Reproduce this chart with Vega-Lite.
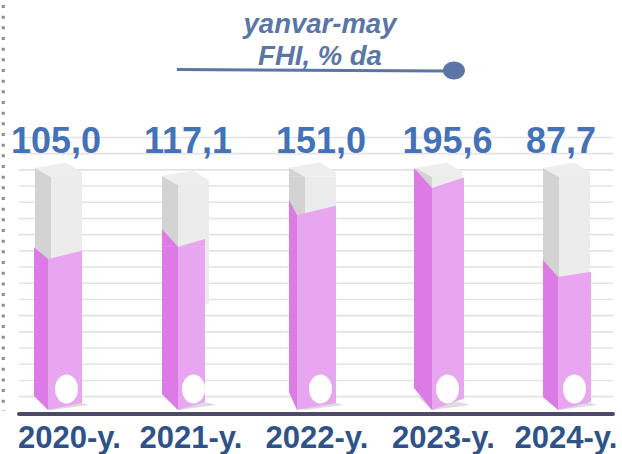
{"$schema":"https://vega.github.io/schema/vega-lite/v6.json","width":622,"height":454,"padding":0,"autosize":"none","background":"white","config":{"view":{"stroke":null}},
"resolve":{"scale":{"x":"independent","shape":"independent","size":"independent"}},
"datasets":{"bars":[{"year":2020,"value":105.0,"label":"105,0","tick":"2020-y.","fill":95.7,"tube":146.3},{"year":2021,"value":117.1,"label":"117,1","tick":"2021-y.","fill":103.3,"tube":141.4},{"year":2022,"value":151.0,"label":"151,0","tick":"2022-y.","fill":122.8,"tube":146.5},{"year":2023,"value":195.6,"label":"195,6","tick":"2023-y.","fill":139.5,"tube":146.3},{"year":2024,"value":87.7,"label":"87,7","tick":"2024-y.","fill":84.6,"tube":146.3}],
"grid":[{"g":10.7},{"g":20.7},{"g":30.7},{"g":40.7},{"g":50.7},{"g":60.7},{"g":70.7},{"g":80.7},{"g":90.7},{"g":100.7},{"g":110.7},{"g":120.7},{"g":130.7},{"g":140.7},{"g":150.7},{"g":160.7},{"g":170.7}],
"one":[{"t":"yanvar-may"}]},
"data":{"name":"bars"},
"layer":[
{"data":{"name":"one"},"mark":{"type":"rule","color":"#8c8c8c","strokeWidth":3,"strokeDash":[3,7.67]},"encoding":{"x":{"datum":2019.624,"type":"quantitative","scale":{"domain":[2019.5984,2024.4961],"nice":false,"zero":false,"padding":0},"axis":null},"y":{"datum":252.5,"type":"quantitative","scale":{"domain":[-24.69,255.56],"nice":false,"zero":false},"axis":null},"y2":{"datum":1.85}}},
{"data":{"name":"grid"},"mark":{"type":"rule","color":"#e3e3e3","strokeWidth":1.6},"encoding":{"x":{"datum":2019.748,"type":"quantitative","scale":{"domain":[2019.5984,2024.4961],"nice":false,"zero":false,"padding":0},"axis":null},"x2":{"datum":2024.425},"y":{"field":"g","type":"quantitative","scale":{"domain":[-24.69,255.56],"nice":false,"zero":false},"axis":null}}},
{"mark":{"type":"point","filled":true,"size":4,"opacity":1,"color":"#dcdcdc","strokeWidth":0,"shape":"M-16,-15L0,0L38,-5L31,-7Z"},"encoding":{"x":{"field":"year","type":"quantitative","scale":{"domain":[2019.5984,2024.4961],"nice":false,"zero":false,"padding":0},"axis":null},"y":{"datum":2.47,"type":"quantitative","scale":{"domain":[-24.69,255.56],"nice":false,"zero":false},"axis":null}}},
{"mark":{"type":"bar","orient":"vertical","color":"#d3d3d3","width":16,"xOffset":-8},"encoding":{"x":{"field":"year","type":"quantitative","scale":{"domain":[2019.5984,2024.4961],"nice":false,"zero":false,"padding":0},"axis":null},"y":{"field":"tube","type":"quantitative","scale":{"domain":[-24.69,255.56],"nice":false,"zero":false},"axis":null},"y2":{"datum":68}}},
{"mark":{"type":"bar","orient":"vertical","color":"#ececec","width":31,"xOffset":15.5},"encoding":{"x":{"field":"year","type":"quantitative","scale":{"domain":[2019.5984,2024.4961],"nice":false,"zero":false,"padding":0},"axis":null},"y":{"field":"tube","type":"quantitative","scale":{"domain":[-24.69,255.56],"nice":false,"zero":false},"axis":null},"y2":{"datum":68}}},
{"mark":{"type":"point","filled":true,"size":4,"opacity":1,"color":"#d3d3d3","strokeWidth":0,"shape":"M-16,0L-16,-9L0,0Z"},"encoding":{"x":{"field":"year","type":"quantitative","scale":{"domain":[2019.5984,2024.4961],"nice":false,"zero":false,"padding":0},"axis":null},"y":{"field":"tube","type":"quantitative","scale":{"domain":[-24.69,255.56],"nice":false,"zero":false},"axis":null}}},
{"mark":{"type":"point","filled":true,"size":4,"opacity":1,"color":"#eeeeee","strokeWidth":0,"shape":"M-16,-9L15,-14.5L31,-4.5L31,0L0,0Z"},"encoding":{"x":{"field":"year","type":"quantitative","scale":{"domain":[2019.5984,2024.4961],"nice":false,"zero":false,"padding":0},"axis":null},"y":{"field":"tube","type":"quantitative","scale":{"domain":[-24.69,255.56],"nice":false,"zero":false},"axis":null}}},
{"mark":{"type":"bar","orient":"vertical","color":"#dc7ae6"},"encoding":{"x":{"field":"year","type":"quantitative","scale":{"domain":[2020,2021,2022,2023,2024],"range":[41,170,293,423,550.5],"nice":false,"zero":false,"padding":0},"axis":null},"size":{"field":"year","type":"nominal","legend":null,"scale":{"type":"ordinal","domain":[2020,2021,2022,2023,2024],"range":[14,16,8,18,15]}},"y":{"field":"fill","type":"quantitative","scale":{"domain":[-24.69,255.56],"nice":false,"zero":false},"axis":null},"y2":{"datum":16}}},
{"mark":{"type":"bar","orient":"vertical","color":"#e9a6f0"},"encoding":{"x":{"field":"year","type":"quantitative","scale":{"domain":[2020,2021,2022,2023,2024],"range":[65,191.5,316.5,448,574.5],"nice":false,"zero":false,"padding":0},"axis":null},"size":{"field":"year","type":"nominal","legend":null,"scale":{"type":"ordinal","domain":[2020,2021,2022,2023,2024],"range":[34,27,39,32,33]}},"y":{"field":"fill","type":"quantitative","scale":{"domain":[-24.69,255.56],"nice":false,"zero":false},"axis":null},"y2":{"datum":9.9}}},
{"mark":{"type":"point","filled":true,"size":4,"opacity":1,"color":"#dc7ae6","strokeWidth":0},"encoding":{"x":{"field":"year","type":"quantitative","scale":{"domain":[2019.5984,2024.4961],"nice":false,"zero":false,"padding":0},"axis":null},"y":{"field":"fill","type":"quantitative","scale":{"domain":[-24.69,255.56],"nice":false,"zero":false},"axis":null},"shape":{"field":"year","type":"nominal","legend":null,"scale":{"domain":[2020,2021,2022,2023,2024],"range":["M-17,0L-17,-11.7L-3,0Z","M-16,0L-16,-17.7L0,0Z","M-16,0L-16,-15L-8,0Z","M-18,0L-18,-20L0,0Z","M-16,0L-16,-17L-1,0Z"]}}}},
{"mark":{"type":"point","filled":true,"size":4,"opacity":1,"color":"#e9a6f0","strokeWidth":0},"encoding":{"x":{"field":"year","type":"quantitative","scale":{"domain":[2019.5984,2024.4961],"nice":false,"zero":false,"padding":0},"axis":null},"y":{"field":"fill","type":"quantitative","scale":{"domain":[-24.69,255.56],"nice":false,"zero":false},"axis":null},"shape":{"field":"year","type":"nominal","legend":null,"scale":{"domain":[2020,2021,2022,2023,2024],"range":["M-3,0L31,-8.3L31,0Z","M0,0L27,-7.7L27,0Z","M-8,0L31,-9.3L31,0Z","M0,0L32,-10.5L32,0Z","M-1,0L32,-5.3L32,0Z"]}}}},
{"mark":{"type":"point","filled":true,"size":4,"opacity":1,"color":"#dc7ae6","strokeWidth":0},"encoding":{"x":{"field":"year","type":"quantitative","scale":{"domain":[2019.5984,2024.4961],"nice":false,"zero":false,"padding":0},"axis":null},"y":{"datum":16,"type":"quantitative","scale":{"domain":[-24.69,255.56],"nice":false,"zero":false},"axis":null},"shape":{"field":"year","type":"nominal","legend":null,"scale":{"domain":[2020,2021,2022,2023,2024],"range":["M-17,0L-3,0L-3,22L-17,8Z","M-16,0L0,0L0,22L-16,6Z","M-16,0L-8,0L-8,22L-16,4Z","M-18,0L0,0L0,22L-18,0Z","M-16,0L-1,0L-1,22L-16,9Z"]}}}},
{"mark":{"type":"point","filled":true,"size":4,"opacity":1,"color":"#e9a6f0","strokeWidth":0},"encoding":{"x":{"field":"year","type":"quantitative","scale":{"domain":[2019.5984,2024.4961],"nice":false,"zero":false,"padding":0},"axis":null},"y":{"datum":9.9,"type":"quantitative","scale":{"domain":[-24.69,255.56],"nice":false,"zero":false},"axis":null},"shape":{"field":"year","type":"nominal","legend":null,"scale":{"domain":[2020,2021,2022,2023,2024],"range":["M-3,0L31,0L31,5L-3,12Z","M0,0L27,0L27,4L0,12Z","M-8,0L31,0L31,5L-8,12Z","M0,0L32,0L32,0.5L0,12Z","M-1,0L32,0L32,4L-1,12Z"]}}}},
{"mark":{"type":"point","filled":true,"size":4,"opacity":1,"color":"white","strokeWidth":0,"xOffset":15.5,"shape":"M-11.5,0A11.5,14.5 0 1,0 11.5,0A11.5,14.5 0 1,0 -11.5,0Z"},"encoding":{"x":{"field":"year","type":"quantitative","scale":{"domain":[2019.5984,2024.4961],"nice":false,"zero":false,"padding":0},"axis":null},"y":{"datum":15.4,"type":"quantitative","scale":{"domain":[-24.69,255.56],"nice":false,"zero":false},"axis":null}}},
{"data":{"name":"one"},"mark":{"type":"rule","color":"#4c4a66","strokeWidth":4,"strokeCap":"round"},"encoding":{"x":{"datum":2019.748,"type":"quantitative","scale":{"domain":[2019.5984,2024.4961],"nice":false,"zero":false,"padding":0},"axis":null},"x2":{"datum":2024.425},"y":{"datum":0,"type":"quantitative","scale":{"domain":[-24.69,255.56],"nice":false,"zero":false},"axis":null}}},
{"mark":{"type":"text","font":"Liberation Sans","fontWeight":"bold","fontSize":36,"color":"#4472b8","align":"center","baseline":"alphabetic"},"encoding":{"x":{"field":"year","type":"quantitative","scale":{"domain":[2020,2021,2022,2023,2024],"range":[56,188,321,447.5,561],"nice":false,"zero":false,"padding":0},"axis":null},"y":{"datum":161.4,"type":"quantitative","scale":{"domain":[-24.69,255.56],"nice":false,"zero":false},"axis":null},"text":{"field":"label"}}},
{"mark":{"type":"text","font":"Liberation Sans","fontWeight":"bold","fontSize":31,"color":"#2f5289","align":"center","baseline":"alphabetic"},"encoding":{"x":{"field":"year","type":"quantitative","scale":{"domain":[2020,2021,2022,2023,2024],"range":[69.5,191,317,443.5,566],"nice":false,"zero":false,"padding":0},"axis":null},"y":{"datum":-20.7,"type":"quantitative","scale":{"domain":[-24.69,255.56],"nice":false,"zero":false},"axis":null},"text":{"field":"tick"}}},
{"data":{"name":"one"},"mark":{"type":"text","font":"Liberation Sans","fontWeight":"bold","fontStyle":"italic","fontSize":27.5,"color":"#5b76a6","align":"center","baseline":"alphabetic"},"encoding":{"x":{"datum":2022.118,"type":"quantitative","scale":{"domain":[2019.5984,2024.4961],"nice":false,"zero":false,"padding":0},"axis":null},"y":{"datum":235.2,"type":"quantitative","scale":{"domain":[-24.69,255.56],"nice":false,"zero":false},"axis":null},"text":{"datum":"yanvar-may"}}},
{"data":{"name":"one"},"mark":{"type":"text","font":"Liberation Sans","fontWeight":"bold","fontStyle":"italic","fontSize":27.5,"color":"#5b76a6","align":"center","baseline":"alphabetic"},"encoding":{"x":{"datum":2022.118,"type":"quantitative","scale":{"domain":[2019.5984,2024.4961],"nice":false,"zero":false,"padding":0},"axis":null},"y":{"datum":215.4,"type":"quantitative","scale":{"domain":[-24.69,255.56],"nice":false,"zero":false},"axis":null},"text":{"datum":"FHI, % da"}}},
{"data":{"name":"one"},"mark":{"type":"rule","color":"#5b76a6","strokeWidth":3},"encoding":{"x":{"datum":2020.992,"type":"quantitative","scale":{"domain":[2019.5984,2024.4961],"nice":false,"zero":false,"padding":0},"axis":null},"x2":{"datum":2023.102},"y":{"datum":212.7,"type":"quantitative","scale":{"domain":[-24.69,255.56],"nice":false,"zero":false},"axis":null},"y2":{"datum":211.7}}},
{"data":{"name":"one"},"mark":{"type":"point","filled":true,"size":4,"opacity":1,"color":"#5b76a6","strokeWidth":0,"shape":"M-11,0A11,9 0 1,0 11,0A11,9 0 1,0 -11,0Z"},"encoding":{"x":{"datum":2023.173,"type":"quantitative","scale":{"domain":[2019.5984,2024.4961],"nice":false,"zero":false,"padding":0},"axis":null},"y":{"datum":212,"type":"quantitative","scale":{"domain":[-24.69,255.56],"nice":false,"zero":false},"axis":null}}}
]}
